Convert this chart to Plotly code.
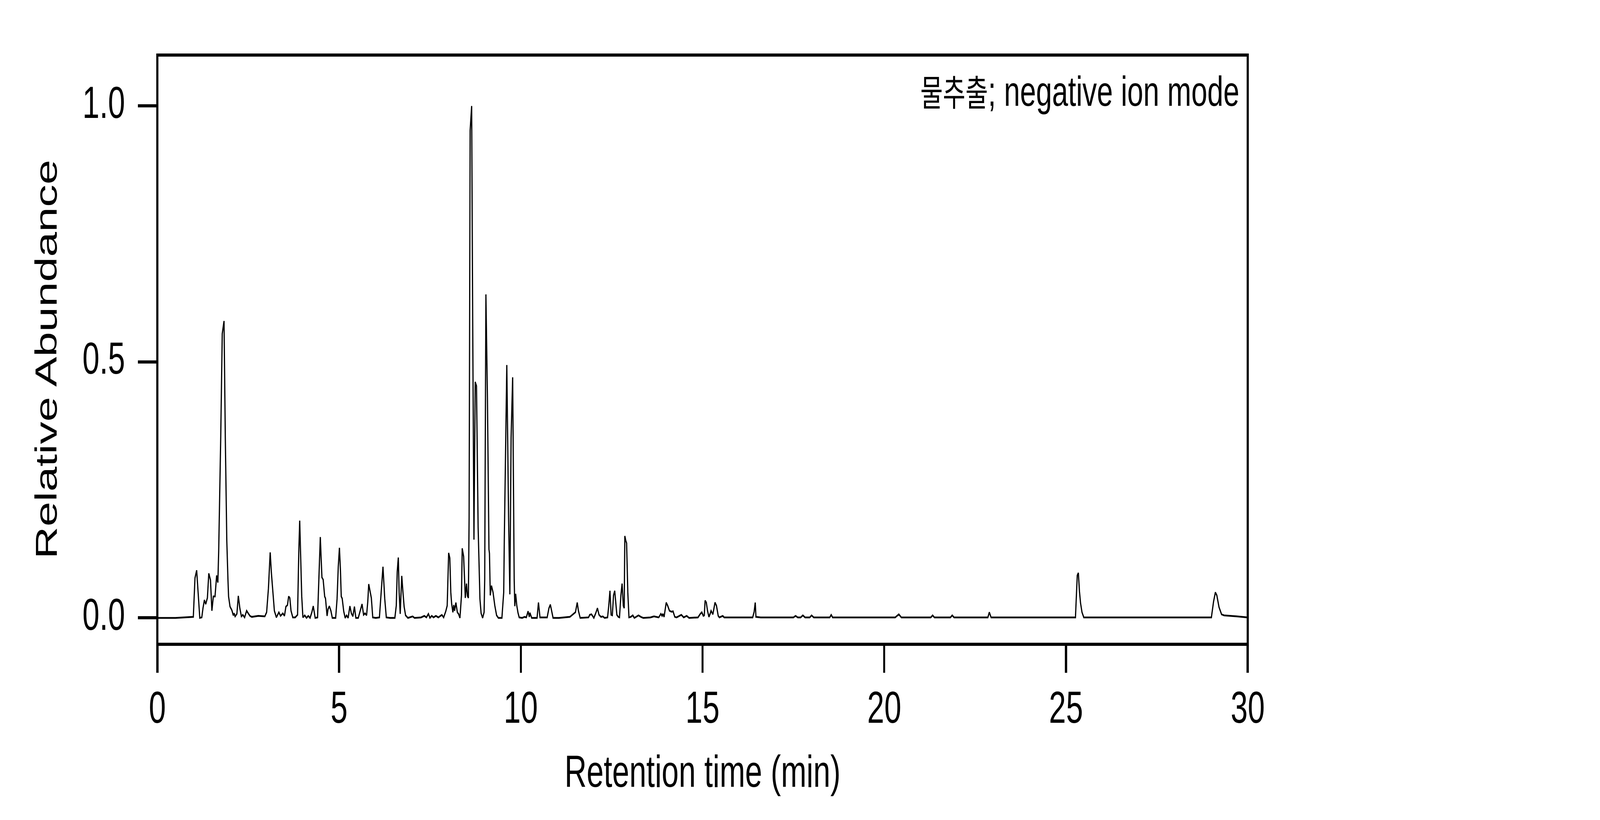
import plotly.graph_objects as go

retention_time_min = [
    0.0, 0.5, 0.99, 1.036, 1.082, 1.109, 1.141, 1.168, 1.223, 1.256, 1.295, 1.331, 1.377, 1.416, 1.462,
    1.501, 1.541, 1.587, 1.632, 1.665, 1.688, 1.744, 1.786, 1.835, 1.870, 1.911, 1.943, 1.96, 2.0,
    2.051, 2.09, 2.113, 2.14, 2.189, 2.228, 2.27, 2.313, 2.352, 2.401, 2.457, 2.5, 2.549, 2.598,
    2.778, 2.958, 3.007, 3.056, 3.105, 3.138, 3.177, 3.22, 3.275, 3.344, 3.39, 3.452, 3.498, 3.537,
    3.58, 3.613, 3.645, 3.678, 3.727, 3.793, 3.858, 3.891, 3.917, 3.94, 3.973, 4.005, 4.055, 4.104,
    4.153, 4.202, 4.251, 4.29, 4.343, 4.408, 4.447, 4.484, 4.506, 4.529, 4.562, 4.604, 4.627, 4.67,
    4.696, 4.732, 4.775, 4.814, 4.906, 4.945, 4.978, 5.01, 5.037, 5.06, 5.086, 5.128, 5.168, 5.207,
    5.249, 5.298, 5.338, 5.38, 5.423, 5.462, 5.528, 5.567, 5.632, 5.675, 5.714, 5.757, 5.79, 5.816,
    5.855, 5.888, 5.927, 6.01, 6.11, 6.159, 6.208, 6.257, 6.3, 6.404, 6.535, 6.574, 6.6, 6.63,
    6.653, 6.682, 6.725, 6.758, 6.79, 6.83, 6.895, 7.026, 7.075, 7.255, 7.347, 7.403, 7.458, 7.5,
    7.55, 7.6, 7.664, 7.73, 7.828, 7.877, 7.936, 7.975, 8.015, 8.047, 8.074, 8.097, 8.132, 8.155,
    8.178, 8.214, 8.254, 8.286, 8.326, 8.368, 8.388, 8.427, 8.45, 8.473, 8.506, 8.532, 8.558, 8.578,
    8.606, 8.648, 8.676, 8.711, 8.746, 8.781, 8.826, 8.853, 8.876, 8.908, 8.95, 8.99, 9.007, 9.04,
    9.082, 9.124, 9.138, 9.16, 9.193, 9.236, 9.285, 9.334, 9.383, 9.48, 9.53, 9.546, 9.615, 9.664,
    9.699, 9.733, 9.776, 9.818, 9.835, 9.858, 9.89, 9.923, 9.956, 10.038, 10.103, 10.152, 10.2,
    10.234, 10.25, 10.3, 10.447, 10.486, 10.528, 10.725, 10.774, 10.813, 10.856, 10.888, 11.05,
    11.35, 11.503, 11.553, 11.585, 11.634, 11.864, 11.896, 11.945, 12.01, 12.06, 12.109, 12.152,
    12.207, 12.256, 12.305, 12.387, 12.42, 12.453, 12.485, 12.518, 12.551, 12.584, 12.616, 12.643,
    12.682, 12.715, 12.754, 12.787, 12.82, 12.845, 12.862, 12.888, 12.911, 12.944, 12.976, 13.026,
    13.081, 13.124, 13.238, 13.304, 13.369, 13.566, 13.664, 13.795, 13.854, 13.887, 13.909, 13.942,
    14.001, 14.04, 14.09, 14.148, 14.188, 14.237, 14.286, 14.417, 14.482, 14.564, 14.63, 14.777,
    14.875, 14.94, 14.98, 15.022, 15.048, 15.071, 15.104, 15.137, 15.176, 15.209, 15.235, 15.284,
    15.343, 15.383, 15.432, 15.464, 15.556, 15.595, 16.2, 16.38, 16.42, 16.45, 16.47, 16.6, 17.5,
    17.56, 17.62, 17.7, 17.76, 17.82, 17.95, 18.0, 18.06, 18.5, 18.54, 18.58, 20.3, 20.4, 20.47,
    21.28, 21.33, 21.38, 21.82, 21.87, 21.92, 22.85, 22.89, 22.94, 25.26, 25.29, 25.31, 25.34,
    25.37, 25.40, 25.44, 25.49, 29.0, 29.06, 29.11, 29.15, 29.21, 29.28, 29.35, 29.7, 30.0,
]

relative_abundance = [
    0.0, 0.0, 0.002, 0.078, 0.093, 0.062, 0.024, 0.0, 0.001, 0.019, 0.035, 0.027, 0.039, 0.087, 0.074,
    0.014, 0.042, 0.042, 0.083, 0.069, 0.13, 0.352, 0.555, 0.58, 0.352, 0.151, 0.075, 0.042, 0.022,
    0.015, 0.005, 0.009, 0.003, 0.008, 0.043, 0.019, 0.003, 0.006, 0.001, 0.014, 0.009, 0.004, 0.002,
    0.004, 0.003, 0.011, 0.057, 0.128, 0.088, 0.055, 0.014, 0.001, 0.011, 0.004, 0.009, 0.004, 0.022,
    0.025, 0.042, 0.039, 0.014, 0.001, 0.001, 0.006, 0.126, 0.19, 0.126, 0.042, 0.001, 0.005, 0.0,
    0.004, 0.0, 0.011, 0.023, 0.0, 0.001, 0.088, 0.158, 0.118, 0.079, 0.075, 0.042, 0.038, 0.004,
    0.017, 0.023, 0.014, 0.0, 0.0, 0.037, 0.1, 0.137, 0.095, 0.042, 0.038, 0.013, 0.0, 0.005,
    0.0, 0.023, 0.009, 0.003, 0.022, 0.0, 0.0, 0.010, 0.027, 0.006, 0.009, 0.005, 0.032, 0.066,
    0.05, 0.039, 0.001, 0.0, 0.001, 0.05, 0.1, 0.037, 0.001, 0.0, 0.0, 0.024, 0.09, 0.118,
    0.05, 0.008, 0.082, 0.05, 0.022, 0.005, 0.0, 0.003, 0.0, 0.001, 0.004, 0.001, 0.008, 0.0,
    0.004, 0.001, 0.004, 0.001, 0.006, 0.001, 0.013, 0.024, 0.127, 0.117, 0.05, 0.028, 0.011, 0.025,
    0.014, 0.03, 0.011, 0.008, 0.0, 0.044, 0.136, 0.12, 0.075, 0.039, 0.067, 0.043, 0.039, 0.196,
    0.952, 1.0, 0.586, 0.153, 0.461, 0.453, 0.177, 0.1, 0.037, 0.009, 0.0, 0.011, 0.075, 0.632,
    0.43, 0.134, 0.126, 0.044, 0.063, 0.05, 0.024, 0.005, 0.0, 0.0, 0.05, 0.151, 0.494, 0.196,
    0.046, 0.352, 0.47, 0.075, 0.023, 0.047, 0.024, 0.01, 0.001, 0.0, 0.002, 0.001, 0.013,
    0.002, 0.01, 0.0, 0.0, 0.03, 0.001, 0.001, 0.019, 0.026, 0.011, 0.0, 0.0,
    0.002, 0.011, 0.03, 0.014, 0.0, 0.001, 0.006, 0.007, 0.0, 0.009, 0.019, 0.006,
    0.002, 0.003, 0.0, 0.001, 0.024, 0.053, 0.006, 0.005, 0.044, 0.053, 0.027, 0.006,
    0.002, 0.001, 0.044, 0.067, 0.024, 0.019, 0.16, 0.151, 0.146, 0.05, 0.001, 0.002,
    0.005, 0.0, 0.005, 0.002, 0.0, 0.001, 0.003, 0.001, 0.008, 0.004, 0.008, 0.002,
    0.03, 0.024, 0.014, 0.012, 0.013, 0.002, 0.001, 0.006, 0.001, 0.004, 0.0, 0.001,
    0.001, 0.008, 0.011, 0.004, 0.005, 0.034, 0.03, 0.014, 0.002, 0.008, 0.014, 0.007,
    0.03, 0.024, 0.004, 0.001, 0.004, 0.001, 0.001, 0.001, 0.012, 0.03, 0.002, 0.001, 0.001,
    0.004, 0.001, 0.001, 0.005, 0.001, 0.001, 0.005, 0.001, 0.001, 0.006, 0.001, 0.001, 0.007, 0.001,
    0.001, 0.005, 0.001, 0.001, 0.005, 0.001, 0.001, 0.011, 0.001, 0.001, 0.056, 0.083, 0.088,
    0.052, 0.029, 0.011, 0.001, 0.001, 0.032, 0.05, 0.044, 0.021, 0.007, 0.005, 0.003, 0.001,
]

x_ticks = [0, 5, 10, 15, 20, 25, 30]
y_ticks = [0.0, 0.5, 1.0]
y_tick_labels = ["0.0", "0.5", "1.0"]

x_title = "Retention time (min)"
y_title = "Relative Abundance"
label_korean = "물추출"
label_rest = "; negative ion mode"

FONT = "Arial, Liberation Sans, Noto Sans CJK KR, sans-serif"
FIG_W, FIG_H = 6000, 2100

fig = go.Figure()
fig.add_trace(go.Scatter(
    x=retention_time_min, y=relative_abundance, mode="lines",
    line=dict(color="black", width=4.5), showlegend=False, hoverinfo="skip",
))

axis_common = dict(
    showline=False,
    ticks="outside", ticklen=72, tickwidth=8, tickcolor="black",
    showgrid=False, zeroline=False,
    tickfont=dict(family=FONT, size=115, color="black"),
)

fig.update_xaxes(
    range=[0, 30], tickvals=x_ticks, ticktext=[str(v) for v in x_ticks],
    ticklabelstandoff=-10,
    title=dict(text=x_title, font=dict(family=FONT, size=115, color="black"), standoff=60),
    **axis_common,
)
fig.update_yaxes(
    range=[-0.0515, 1.0995], tickvals=y_ticks, ticktext=y_tick_labels,
    ticklabelstandoff=25, ticklabelshift=-10,
    **axis_common,
)

# Closed frame around the plotting area, centred on the plot edges
fig.add_shape(
    type="rect", xref="paper", yref="paper", x0=0, x1=1, y0=0, y1=1,
    line=dict(color="black", width=8), fillcolor="rgba(0,0,0,0)", layer="above",
)

# Y-axis title (placed slightly below the axis centre, as in the reference)
fig.add_annotation(
    xref="paper", yref="paper", x=-0.1023, y=0.4838, xanchor="center", yanchor="middle",
    text=y_title, textangle=-90, showarrow=False,
    font=dict(family=FONT, size=115, color="black"),
)

fig.add_annotation(
    xref="paper", yref="paper", x=0.9928, y=0.939, xanchor="right", yanchor="middle",
    text=f'<span style="font-size:92px">{label_korean}</span>{label_rest}',
    showarrow=False, font=dict(family=FONT, size=108, color="black"),
)

fig.update_layout(
    width=FIG_W, height=FIG_H,
    margin=dict(l=589.5, r=1320.5, t=141, b=450, autoexpand=False),
    paper_bgcolor="white", plot_bgcolor="white",
    font=dict(family=FONT, color="black"),
)

# The browser may cap the viewport below 6000 px wide; map the 6000x2100 figure
# onto the whole viewport so the photographed page keeps the reference's layout.
post_script = """
(function () {
  var W = %d, H = %d;
  var gd = document.getElementById('{plot_id}');
  var html = document.documentElement, body = document.body;
  html.style.margin = '0'; body.style.margin = '0';
  html.style.padding = '0'; body.style.padding = '0';
  html.style.overflow = 'hidden'; body.style.overflow = 'hidden';
  html.style.background = 'white'; body.style.background = 'white';
  var vw = window.innerWidth, vh = window.innerHeight;
  var box = gd.parentElement;
  box.style.width = vw + 'px'; box.style.height = vh + 'px';
  box.style.overflow = 'hidden'; box.style.position = 'relative';
  gd.style.transformOrigin = '0 0';
  gd.style.transform = 'scale(' + (vw / W) + ',' + (vh / H) + ')';
})();
""" % (FIG_W, FIG_H)

fig.write_html("out.html", post_script=post_script, config={"displayModeBar": False})
